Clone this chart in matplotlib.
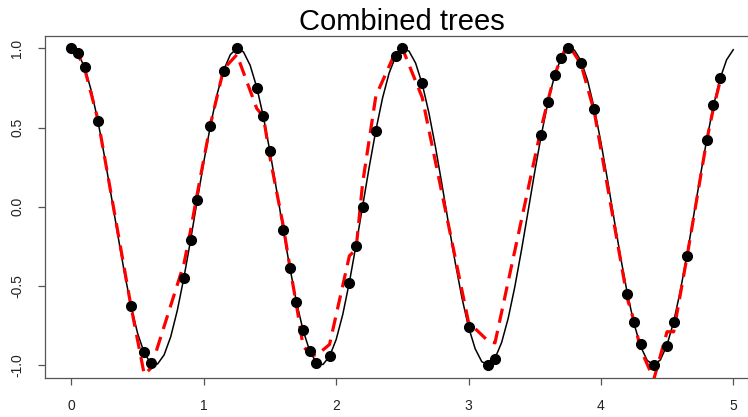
import numpy as np
import matplotlib
matplotlib.use("Agg")
import matplotlib.pyplot as plt

# true curve, sampled on a 0.05 grid from 0 to 5
curve_x = np.linspace(0, 5, 101)
curve_y = [1.000, 0.969, 0.878, 0.732, 0.540, 0.315, 0.071, -0.178, -0.416, -0.628,
           -0.801, -0.924, -0.990, -0.994, -0.936, -0.821, -0.654, -0.446, -0.211, 0.038,
           0.284, 0.512, 0.709, 0.862, 0.960, 1.000, 0.977, 0.893, 0.754, 0.568,
           0.347, 0.104, -0.146, -0.385, -0.602, -0.781, -0.911, -0.985, -0.997, -0.945,
           -0.839, -0.680, -0.476, -0.243, 0.004, 0.252, 0.483, 0.685, 0.844, 0.950,
           0.998, 0.983, 0.907, 0.775, 0.595, 0.378, 0.137, -0.113, -0.355, -0.575,
           -0.760, -0.897, -0.979, -0.999, -0.958, -0.858, -0.704, -0.505, -0.275, -0.029,
           0.219, 0.453, 0.660, 0.827, 0.941, 0.995, 0.989, 0.921, 0.796, 0.622,
           0.408, 0.170, -0.080, -0.324, -0.548, -0.737, -0.882, -0.971, -1.000, -0.967,
           -0.873, -0.726, -0.533, -0.307, -0.062, 0.187, 0.424, 0.635, 0.807, 0.928,
           0.991]

# training points
train_x = [0.00, 0.05, 0.10, 0.20, 0.45, 0.55, 0.60, 0.85, 0.90, 0.95,
           1.05, 1.15, 1.25, 1.40, 1.45, 1.50, 1.60, 1.65, 1.70, 1.75,
           1.80, 1.85, 1.95, 2.10, 2.15, 2.20, 2.30, 2.45, 2.50, 2.65,
           3.00, 3.15, 3.20, 3.55, 3.60, 3.65, 3.70, 3.75, 3.85, 3.95,
           4.20, 4.25, 4.30, 4.40, 4.50, 4.55, 4.65, 4.80, 4.85, 4.90]
train_y = [1.00, 0.97, 0.88, 0.54, -0.63, -0.92, -0.99, -0.45, -0.21, 0.04,
           0.51, 0.86, 1.00, 0.75, 0.57, 0.35, -0.15, -0.39, -0.60, -0.78,
           -0.91, -0.99, -0.94, -0.48, -0.25, 0.00, 0.48, 0.95, 1.00, 0.78,
           -0.76, -1.00, -0.96, 0.45, 0.66, 0.83, 0.94, 1.00, 0.91, 0.62,
           -0.55, -0.73, -0.87, -1.00, -0.88, -0.73, -0.31, 0.42, 0.64, 0.81]

# combined trees prediction at the training points
pred_y = [0.99, 0.96, 0.87, 0.55, -0.63, -1.06, -1.02, -0.36, -0.15, 0.08,
          0.52, 0.87, 0.96, 0.62, 0.57, 0.31, -0.12, -0.38, -0.62, -0.88,
          -0.93, -0.94, -0.87, -0.31, -0.27, 0.15, 0.70, 0.98, 1.00, 0.69,
          -0.73, -0.85, -0.86, 0.50, 0.67, 0.83, 0.94, 1.03, 0.90, 0.60,
          -0.58, -0.72, -0.90, -1.09, -0.79, -0.79, -0.32, 0.42, 0.62, 0.79]

x_ticks = [0, 1, 2, 3, 4, 5]
y_ticks = [-1.0, -0.5, 0.0, 0.5, 1.0]

plt.rcParams['font.family'] = ['Liberation Sans', 'DejaVu Sans']

fig = plt.figure(figsize=(7.48, 4.17), dpi=100)
# plot box runs past the right edge like the cropped original
ax = fig.add_axes([45 / 748, 39 / 417, 714.7 / 748, 342 / 417])

ax.plot(curve_x, curve_y, color='black', lw=1.1, zorder=2)
ax.plot(train_x, pred_y, color='#ff0000', lw=2.3, dashes=(4.5, 2.6), zorder=3)
ax.plot(train_x, train_y, 'o', color='black', ms=7, zorder=4)

ax.set_xlim(-0.2, 5.2)
ax.set_ylim(-1.082, 1.078)
ax.set_xticks(x_ticks)
ax.set_xticklabels([str(v) for v in x_ticks])
ax.set_yticks(y_ticks)
ax.set_yticklabels(['%.1f' % v for v in y_ticks], rotation=90, va='center')

for side in ['left', 'bottom', 'top', 'right']:
    ax.spines[side].set_color('#555555')
    ax.spines[side].set_linewidth(0.9)
ax.tick_params(direction='out', length=5, width=0.9, color='#555555',
               labelsize=10, labelcolor='#222222', pad=10)

ax.set_title('Combined trees', fontsize=21, pad=4)

fig.savefig('out.png', dpi=100)
